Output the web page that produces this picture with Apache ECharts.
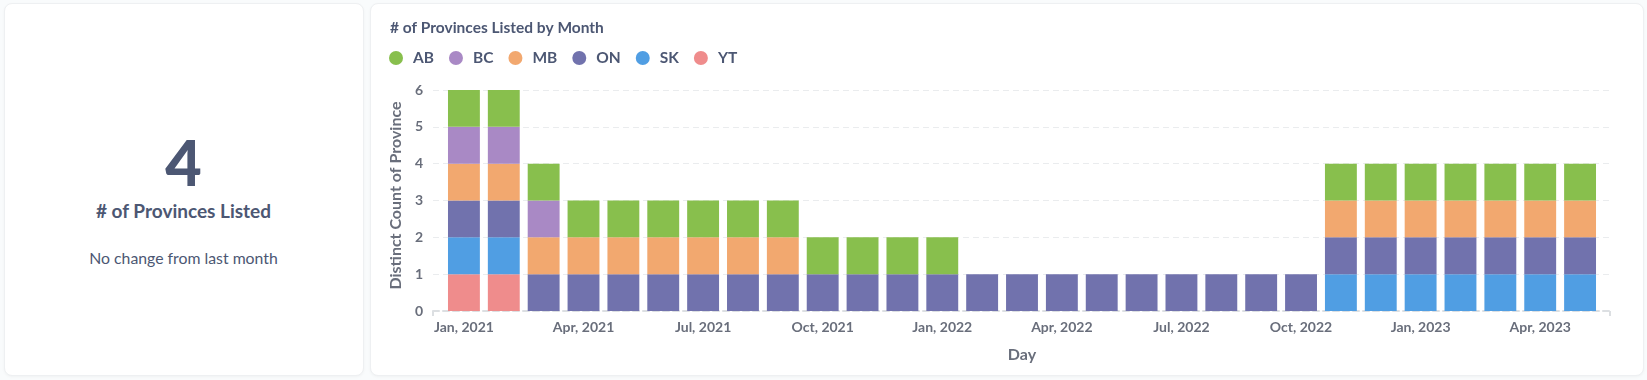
<!DOCTYPE html>
<html>
<head>
<meta charset="utf-8">
<script src="https://cdn.jsdelivr.net/npm/echarts@6/dist/echarts.min.js"></script>
<style>
  html, body { margin:0; padding:0; width:1647px; height:380px; background:#F9FBFC; overflow:hidden; font-family: Lato, "Noto Sans", sans-serif; }
  .card { position:absolute; background:#fff; border:1px solid #EEF0F2; border-radius:8px; box-shadow:0 1px 3px rgba(0,0,0,0.04); }
  .t { position:absolute; left:4px; width:359px; text-align:center; color:#4C5773; }
  #chart { position:absolute; left:0; top:0; width:1647px; height:380px; }
</style>
</head>
<body>
<div class="card" style="left:4px; top:3px; width:358px; height:371px;"></div>
<div class="card" style="left:370px; top:3px; width:1272px; height:371px;"></div>
<div class="t" style="top:122px; height:80px; line-height:80px; font-size:63px; font-weight:900;">4</div>
<div class="t" style="top:199px; height:24px; line-height:24px; font-size:19px; font-weight:700;"># of Provinces Listed</div>
<div class="t" style="top:247px; height:22px; line-height:22px; font-size:15.8px; font-weight:400;">No change from last month</div>
<div id="chart"></div>
<script>
const months = ["Jan, 2021","Feb, 2021","Mar, 2021","Apr, 2021","May, 2021","Jun, 2021","Jul, 2021","Aug, 2021","Sep, 2021","Oct, 2021","Nov, 2021","Dec, 2021",
  "Jan, 2022","Feb, 2022","Mar, 2022","Apr, 2022","May, 2022","Jun, 2022","Jul, 2022","Aug, 2022","Sep, 2022","Oct, 2022","Nov, 2022","Dec, 2022",
  "Jan, 2023","Feb, 2023","Mar, 2023","Apr, 2023","May, 2023"];
const AB = [1,1,1, 1,1,1,1,1,1, 1,1,1,1, 0,0,0,0,0,0,0,0,0, 1,1,1,1,1,1,1];
const BC = [1,1,1, 0,0,0,0,0,0, 0,0,0,0, 0,0,0,0,0,0,0,0,0, 0,0,0,0,0,0,0];
const MB = [1,1,1, 1,1,1,1,1,1, 0,0,0,0, 0,0,0,0,0,0,0,0,0, 1,1,1,1,1,1,1];
const ON = [1,1,1, 1,1,1,1,1,1, 1,1,1,1, 1,1,1,1,1,1,1,1,1, 1,1,1,1,1,1,1];
const SK = [1,1,0, 0,0,0,0,0,0, 0,0,0,0, 0,0,0,0,0,0,0,0,0, 1,1,1,1,1,1,1];
const YT = [1,1,0, 0,0,0,0,0,0, 0,0,0,0, 0,0,0,0,0,0,0,0,0, 0,0,0,0,0,0,0];
const legendNames = ["AB","BC","MB","ON","SK","YT"];
const yTicks = [0,1,2,3,4,5,6];

const colors = {AB:"#88BF4D", BC:"#A989C5", MB:"#F2A86F", ON:"#7172AD", SK:"#509EE3", YT:"#EF8C8C"};
const stackOrder = [["YT",YT],["SK",SK],["ON",ON],["MB",MB],["BC",BC],["AB",AB]];

const chart = echarts.init(document.getElementById('chart'), null, {renderer:'canvas'});
const labelColor = "#696E7B";
const option = {
  animation:false,
  textStyle:{fontFamily:'Lato'},
  title:{ text:"# of Provinces Listed by Month", left:385, top:15,
    textStyle:{fontSize:15.5, fontWeight:700, color:"#4C5773", fontFamily:'Lato'} },
  legend:{ data:legendNames, left:384, top:45, icon:'circle', itemWidth:14, itemHeight:14, itemGap:15,
    textStyle:{fontSize:15.5, fontWeight:700, color:"#4C5773", fontFamily:'Lato', padding:[0,0,0,5]} },
  grid:[
    {left:444, right:47, top:90, bottom:69},
    {left:433, right:37, top:90, bottom:69}
  ],
  xAxis:[
    {type:'category', gridIndex:0, data:months,
      axisLine:{show:false}, axisTick:{show:false},
      axisLabel:{interval:2, margin:9, fontSize:14, fontWeight:700, color:labelColor, fontFamily:'Lato'},
      name:"Day", nameLocation:'middle', nameGap:36,
      nameTextStyle:{fontSize:16, fontWeight:700, color:labelColor, fontFamily:'Lato'}},
    {type:'value', gridIndex:1, min:0, max:1, interval:1,
      axisLine:{show:true, lineStyle:{color:"#DCDFE2", width:2, type:[6,4]}},
      axisTick:{show:true, length:5, lineStyle:{color:"#DCDFE2", width:2}},
      axisLabel:{show:false}, splitLine:{show:false}}
  ],
  yAxis:[
    {type:'value', gridIndex:0, min:0, max:6, interval:1, show:false, splitLine:{show:false}},
    {type:'value', gridIndex:1, min:0, max:6, interval:1, data:yTicks,
      axisLine:{show:false}, axisTick:{show:false},
      axisLabel:{margin:10, fontSize:14, fontWeight:700, color:labelColor, fontFamily:'Lato'},
      splitLine:{show:true, lineStyle:{color:"#EAECEE", type:[6,4]}},
      name:"Distinct Count of Province", nameLocation:'middle', nameGap:26, nameRotate:90,
      nameTextStyle:{fontSize:16, fontWeight:700, color:labelColor, fontFamily:'Lato', padding:[0,0,0,10]}}
  ],
  series: stackOrder.map(([name, arr]) => ({
    name, type:'bar', stack:'total', xAxisIndex:0, yAxisIndex:0,
    barWidth:'80%', itemStyle:{color:colors[name]},
    data: arr.map(v => v === 0 ? null : v)
  }))
};
chart.setOption(option);
</script>
</body>
</html>
